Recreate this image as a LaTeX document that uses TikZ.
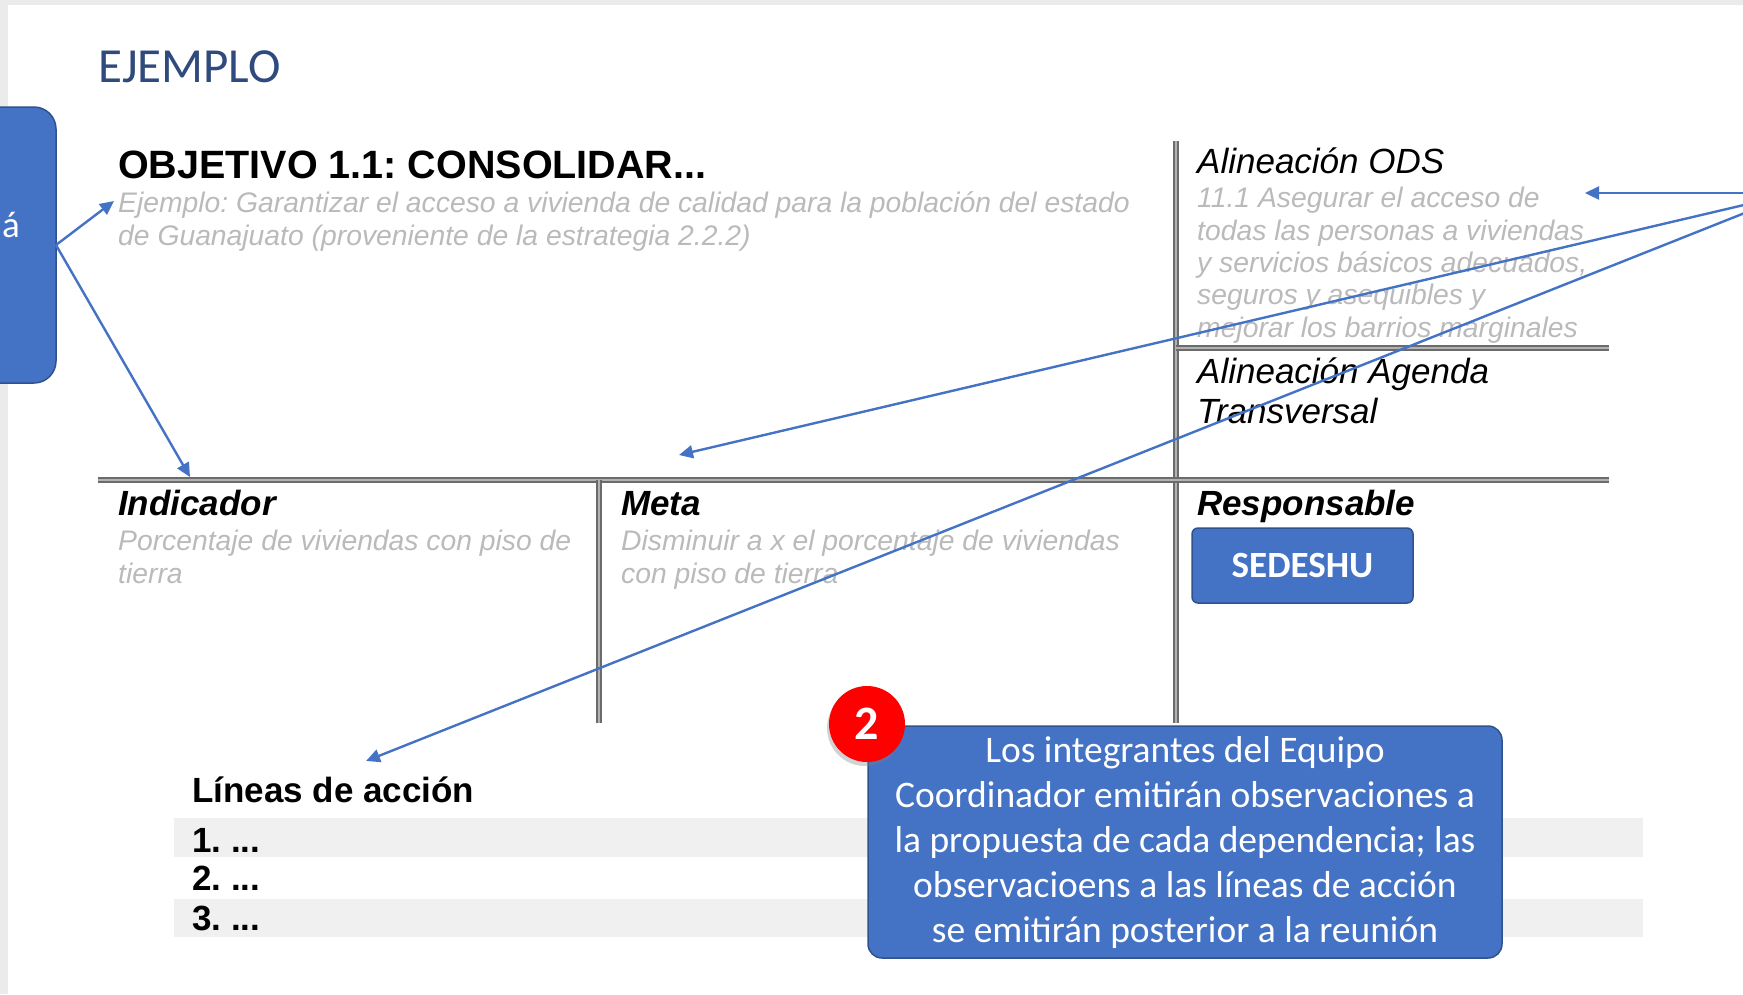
\documentclass[tikz,border=0pt]{standalone}
\usepackage{fontspec}
\setmainfont{Liberation Sans}
\newfontfamily\calibri{Carlito}
\usetikzlibrary{arrows.meta, shadows}
\definecolor{officeblue}{HTML}{4472C4}
\definecolor{officeedge}{HTML}{2F528F}
\definecolor{ejemploblue}{HTML}{2F4A7C}
\frenchspacing

\begin{document}
\begin{tikzpicture}[x=1pt, y=-1pt,
every node/.style={inner sep=0pt},
title/.style={font=\fontsize{39.5}{44}\selectfont\bfseries},
head/.style={font=\fontsize{35}{40}\selectfont\itshape},
headb/.style={font=\fontsize{35}{40}\selectfont\bfseries\itshape},
hint/.style={text=black!27, align=left, font=\fontsize{28.3}{32.3}\selectfont\itshape},
item/.style={font=\fontsize{35}{40}\selectfont\bfseries},
bluebox/.style={fill=officeblue, draw=officeedge, line width=1.5pt, text=white},
rule/.style={draw=black!58, double=black!30, double distance=1.4pt, line width=2.1pt},
link/.style={draw=officeblue, line width=2.4pt, -{Triangle[length=14pt, width=13pt]}},
]

\useasboundingbox (0,0) rectangle (1743,994);

% page edge and list bands
\fill[black!8] (0,0) rectangle (1743,5);
\fill[black!8] (0,0) rectangle (8,994);
\fill[black!6] (174,818) rectangle (1643,857);
\fill[black!6] (174,899) rectangle (1643,937);

% table rules
\draw[rule] (1176,141) -- (1176,723);
\draw[rule] (1176,348) -- (1609,348);
\draw[rule] (98,480) -- (1609,480);
\draw[rule] (599,480) -- (599,723);

\node[anchor=base west, text=ejemploblue, font=\calibri\fontsize{49}{54}\selectfont]
(ejemplo) at (98,82)
{EJEMPLO};

\node[title, anchor=base west]
(objetivo) at (118,178)
{OBJETIVO 1.1: CONSOLIDAR...};

% multi-line nodes: base = last line
\node[hint, anchor=base west]
(objetivo-desc) at (118,245)
{Ejemplo: Garantizar el acceso a vivienda de calidad para la población del estado\\
de Guanajuato (proveniente de la estrategia 2.2.2)};

\node[head, anchor=base west]
(ods) at (1197,173)
{Alineación ODS};

\node[hint, anchor=base west]
(ods-desc) at (1197,337)
{11.1 Asegurar el acceso de\\
todas las personas a viviendas\\
y servicios básicos adecuados,\\
seguros y asequibles y\\
mejorar los barrios marginales};

\node[head, anchor=base west, align=left]
(agenda) at (1197,423)
{Alineación Agenda\\
Transversal};

\node[headb, anchor=base west]
(indicador) at (118,515)
{Indicador};

\node[hint, anchor=base west]
(indicador-desc) at (118,583)
{Porcentaje de viviendas con piso de\\
tierra};

\node[headb, anchor=base west]
(meta) at (621,515)
{Meta};

\node[hint, anchor=base west]
(meta-desc) at (621,583)
{Disminuir a x el porcentaje de viviendas\\
con piso de tierra};

\node[headb, anchor=base west]
(responsable) at (1197,515)
{Responsable};

\node[bluebox, rounded corners=6pt, minimum width=221pt, minimum height=75pt,
font=\calibri\bfseries\fontsize{37}{44}\selectfont]
(sedeshu) at (1302.5,565.5)
{SEDESHU};

\node[item, anchor=base west]
(lineas) at (192,802)
{Líneas de acción};

\node[item, anchor=base west] (item-1) at (192,852) {1. ...};
\node[item, anchor=base west] (item-2) at (192,890) {2. ...};
\node[item, anchor=base west] (item-3) at (192,930) {3. ...};

% callouts
\node[bluebox, rounded corners=22pt, minimum width=140pt, minimum height=276pt]
(left-box) at (-14,245)
{};

\node[text=white, anchor=base east, font=\calibri\fontsize{37}{44}\selectfont]
(left-text) at (20,237)
{á};

\node[bluebox, rounded corners=14pt, minimum width=634pt, minimum height=232pt,
align=center, font=\calibri\fontsize{37.5}{45}\selectfont]
(note) at (1185,842)
{\raisebox{-2pt}{}Los integrantes del Equipo\\
Coordinador emitirán observaciones a\\
la propuesta de cada dependencia; las\\
observacioens a las líneas de acción\\
se emitirán posterior a la reunión};

\node[circle, fill=red, minimum size=76pt, text=white,
font=\calibri\bfseries\fontsize{48}{52}\selectfont,
drop shadow={shadow xshift=-2pt, shadow yshift=-4pt, opacity=0.35}]
(step-two) at (867,724)
{2};

% arrow ends
\coordinate (left-port) at (56,245);
\coordinate (right-port) at (1795,193);
\coordinate (objetivo-tip) at (114,201);
\coordinate (indicador-tip) at (190,477);
\coordinate (ods-tip) at (1585,193);
\coordinate (meta-tip) at (679,455);
\coordinate (lineas-tip) at (366,761);

\draw[link] (left-port) -- (objetivo-tip);
\draw[link] (left-port) -- (indicador-tip);
\draw[link] (right-port) -- (ods-tip);
\draw[link] (right-port) -- (meta-tip);
\draw[link] (right-port) -- (lineas-tip);

\end{tikzpicture}
\end{document}
